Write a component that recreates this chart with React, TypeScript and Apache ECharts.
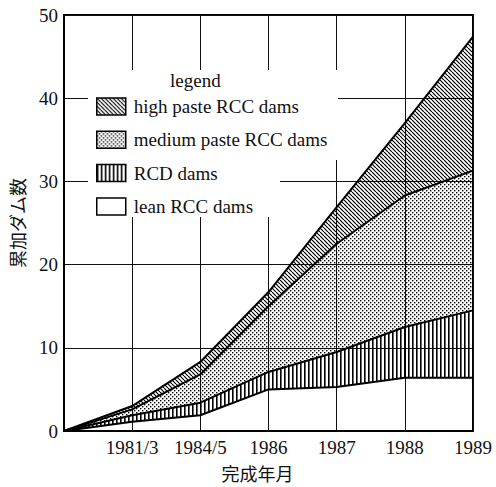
import React, { useEffect, useRef } from "react";
import * as echarts from "echarts";

// Categories on the x axis (first one is the origin, unlabeled)
const categories = ["", "1981/3", "1984/5", "1986", "1987", "1988", "1989"];

// Stacked increments (cumulative dam counts per layer)
const leanRCC = [0, 1.1, 1.9, 5.0, 5.3, 6.4, 6.4];
const rcdDams = [0, 0.8, 1.5, 2.1, 4.2, 6.1, 8.1];
const mediumPaste = [0, 0.7, 3.4, 7.9, 13.0, 15.8, 16.8];
const highPaste = [0, 0.4, 1.5, 1.7, 4.4, 8.7, 16.1];

const seriesNames = ["lean RCC dams", "RCD dams", "medium paste RCC dams", "high paste RCC dams"];
const legendOrder = ["high paste RCC dams", "medium paste RCC dams", "RCD dams", "lean RCC dams"];

const yMin = 0;
const yMax = 50;
const yInterval = 10;

const xTitle = "完成年月";
const yTitle = "累加ダム数";
const legendTitle = "legend";

function makeTile(w: number, h: number, draw: (ctx: CanvasRenderingContext2D) => void) {
  const c = document.createElement("canvas");
  c.width = w;
  c.height = h;
  const ctx = c.getContext("2d")!;
  draw(ctx);
  return c;
}

export default function App() {
  const ref = useRef<HTMLDivElement>(null);

  useEffect(() => {
    if (!ref.current) return;
    const chart = echarts.init(ref.current, undefined, { renderer: "svg" });

    const diag = makeTile(4, 4, (ctx) => {
      ctx.strokeStyle = "#000";
      ctx.lineWidth = 1.2;
      ctx.beginPath();
      for (const o of [-4, 0, 4]) {
        ctx.moveTo(o, 0);
        ctx.lineTo(o + 4, 4);
      }
      ctx.stroke();
    });
    const dots = makeTile(4, 4, (ctx) => {
      ctx.fillStyle = "#000";
      ctx.fillRect(0, 0, 1.4, 1.4);
      ctx.fillRect(2, 2, 1.4, 1.4);
    });
    const vert = makeTile(4, 4, (ctx) => {
      ctx.fillStyle = "#000";
      ctx.fillRect(0, 0, 1.6, 4);
    });

    const pat = (c: HTMLCanvasElement) => ({ image: c, repeat: "repeat" as const });
    const fills: Record<string, any> = {
      "lean RCC dams": "rgba(255,255,255,0)",
      "RCD dams": pat(vert),
      "medium paste RCC dams": pat(dots),
      "high paste RCC dams": pat(diag),
    };
    const legendFills: Record<string, any> = {
      "lean RCC dams": "#fff",
      "RCD dams": pat(vert),
      "medium paste RCC dams": pat(dots),
      "high paste RCC dams": pat(diag),
    };
    const values: Record<string, number[]> = {
      "lean RCC dams": leanRCC,
      "RCD dams": rcdDams,
      "medium paste RCC dams": mediumPaste,
      "high paste RCC dams": highPaste,
    };

    const serif = "'Liberation Serif', 'DejaVu Serif', serif";
    const cjk = "'Noto Sans CJK JP', 'Noto Sans', sans-serif";

    chart.setOption({
      animation: false,
      backgroundColor: "#fff",
      grid: {
        left: 63,
        right: 23,
        top: 15,
        bottom: 55,
        show: true,
        borderColor: "#000",
        borderWidth: 2,
        backgroundColor: "rgba(0,0,0,0)",
      },
      xAxis: {
        type: "category",
        data: categories,
        boundaryGap: false,
        axisLine: { lineStyle: { color: "#000", width: 2 } },
        axisTick: { show: false },
        axisLabel: { color: "#111", fontFamily: serif, fontSize: 19, margin: 7, interval: 0 },
        splitLine: { show: true, lineStyle: { color: "#111", width: 1 } },
        name: xTitle,
        nameLocation: "middle",
        nameGap: 33,
        nameTextStyle: { color: "#111", fontFamily: cjk, fontSize: 18, padding: [0, 22, 0, 0] },
      },
      yAxis: {
        type: "value",
        min: yMin,
        max: yMax,
        interval: yInterval,
        axisLine: { show: true, lineStyle: { color: "#000", width: 2 } },
        axisTick: { show: false },
        axisLabel: { color: "#111", fontFamily: serif, fontSize: 19, margin: 6 },
        splitLine: { show: true, lineStyle: { color: "#111", width: 1 } },
        name: yTitle,
        nameLocation: "middle",
        nameGap: 38,
        nameTextStyle: { color: "#111", fontFamily: cjk, fontSize: 18 },
      },
      legend: {
        orient: "vertical",
        left: 88,
        top: 72,
        padding: [25, 8, 7, 8],
        itemWidth: 29,
        itemHeight: 17,
        itemGap: 14.3,
        selectedMode: false,
        textStyle: { color: "#111", fontFamily: serif, fontSize: 19, padding: [0, 0, 0, 3] },
        data: legendOrder.map((n) => ({
          name: n,
          icon: "rect",
          itemStyle: { color: legendFills[n], borderColor: "#000", borderWidth: 1.5 },
        })),
      },
      graphic: [
        {
          type: "rect",
          z: 1,
          silent: true,
          shape: { x: 88, y: 70, width: 250, height: 90 },
          style: { fill: "#fff" },
        },
        {
          type: "rect",
          z: 1,
          silent: true,
          shape: { x: 88, y: 160, width: 192, height: 57 },
          style: { fill: "#fff" },
        },
        {
          type: "text",
          z: 100,
          left: 170,
          top: 71,
          style: { text: legendTitle, fill: "#111", font: `19px ${serif}` },
        },
      ],
      series: seriesNames.map((n) => ({
        name: n,
        type: "line",
        stack: "total",
        z: 3,
        data: values[n],
        symbol: "none",
        showSymbol: false,
        lineStyle: { color: "#000", width: 2 },
        itemStyle: { color: "#000" },
        areaStyle: { color: fills[n], opacity: 1 },
        emphasis: { disabled: true },
      })),
    });

    return () => chart.dispose();
  }, []);

  return (
    <div
      ref={ref}
      style={{ position: "absolute", left: 0, top: 0, width: 496, height: 487 }}
    />
  );
}
